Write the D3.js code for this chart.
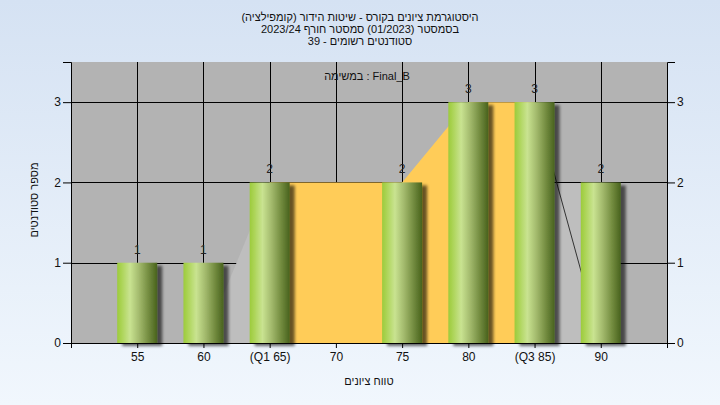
<!DOCTYPE html>
<html><head><meta charset="utf-8">
<script src="https://cdn.jsdelivr.net/npm/d3@7"></script>
<style>html,body{margin:0;padding:0;}svg{display:block;}</style>
</head><body>
<script>
// ---- data ----
const categories = [55, 60, 65, 70, 75, 80, 85, 90];
const counts = [1, 1, 2, 0, 2, 3, 3, 2];
const tickLabels = ["55", "60", "(Q1 65)", "70", "75", "80", "(Q3 85)", "90"];
const yTicks = [0, 1, 2, 3];
const iqrX = [65, 70, 75, 80, 85];
const iqrY = [2, 2, 2, 3, 3];
const tailLeftX = [60, 65];
const tailLeftY = [0, 2];
const tailRightX = [85, 90];
const tailRightY = [3, 0];
const tailRightFillY = [2, 2];
const titleLines = [
  "היסטוגרמת ציונים בקורס - שיטות הידור (קומפילציה)",
  "בסמסטר  (01/2023)  סמסטר חורף 2023/24",
  "סטודנטים רשומים - 39"
];
const subtitle = "במשימה : Final_B";
const xTitle = "טווח ציונים";
const yTitle = "מספר סטודנטים";

// ---- chart ----
const W = 720, H = 405;
const svg = d3.select("body").append("svg").attr("width", W).attr("height", H);
const defs = svg.append("defs");
const bg = defs.append("linearGradient").attr("id", "bg").attr("x1", 0).attr("y1", 0).attr("x2", 0).attr("y2", 1);
bg.append("stop").attr("offset", 0).attr("stop-color", "#d5e2f3");
bg.append("stop").attr("offset", 1).attr("stop-color", "#f1f7fd");
const bar = defs.append("linearGradient").attr("id", "bar").attr("x1", 0).attr("y1", 0).attr("x2", 1).attr("y2", 0);
[[0, "#9ccb3c"], [0.1, "#aad353"], [0.32, "#c9e391"], [0.55, "#a2b96c"], [0.8, "#70893d"], [1, "#48621d"]]
  .forEach(([o, c]) => bar.append("stop").attr("offset", o).attr("stop-color", c));
const sh = defs.append("filter").attr("id", "sh").attr("x", "-20%").attr("y", "-20%").attr("width", "150%").attr("height", "150%");
sh.append("feGaussianBlur").attr("in", "SourceAlpha").attr("stdDeviation", 1.8).attr("result", "b");
sh.append("feOffset").attr("in", "b").attr("dx", 5).attr("dy", 3).attr("result", "o");
sh.append("feComponentTransfer").attr("in", "o").attr("result", "s")
  .append("feFuncA").attr("type", "linear").attr("slope", 0.6);
const mg = sh.append("feMerge");
mg.append("feMergeNode").attr("in", "s");
mg.append("feMergeNode").attr("in", "SourceGraphic");

svg.append("rect").attr("width", W).attr("height", H).attr("fill", "url(#bg)");

const x = d3.scaleLinear().domain([50, 95]).range([71, 667]);
const y = d3.scaleLinear().domain([0, 3.5]).range([343, 62]);
const font = "'Liberation Sans', Arial, sans-serif";

// plot background
svg.append("rect").attr("x", x(50)).attr("y", y(3.5)).attr("width", x(95) - x(50)).attr("height", y(0) - y(3.5)).attr("fill", "#b3b3b3");

// gridlines
const g = svg.append("g");
yTicks.filter(t => t > 0).forEach(t => g.append("line").attr("x1", x(50)).attr("x2", x(95)).attr("y1", Math.round(y(t)) + 0.5).attr("y2", Math.round(y(t)) + 0.5).attr("stroke", "#000"));
categories.forEach(c => g.append("line").attr("x1", Math.round(x(c)) + 0.5).attr("x2", Math.round(x(c)) + 0.5).attr("y1", y(3.5)).attr("y2", y(0)).attr("stroke", "#000"));

// gray tails
const area = d3.area().x(d => x(d[0])).y0(y(0)).y1(d => y(d[1]));
svg.append("path").datum(tailLeftX.map((v, i) => [v, tailLeftY[i]])).attr("d", area).attr("fill", "#bebebe");
svg.append("path").datum(tailRightX.map((v, i) => [v, tailRightFillY[i]])).attr("d", area).attr("fill", "#bebebe");
svg.append("line").attr("x1", x(tailRightX[0])).attr("x2", x(tailRightX[1])).attr("y1", Math.round(y(tailRightFillY[0])) + 0.5).attr("y2", Math.round(y(tailRightFillY[1])) + 0.5).attr("stroke", "#000");
svg.append("path").datum(tailRightX.map((v, i) => [v, tailRightY[i]]))
  .attr("d", d3.line().x(d => x(d[0])).y(d => y(d[1]))).attr("fill", "none").attr("stroke", "#333").attr("stroke-width", 1);

// IQR area
svg.append("path").datum(iqrX.map((v, i) => [v, iqrY[i]])).attr("d", area).attr("fill", "#ffcc58");

// bars
const bw = 40;
const data = categories.map((c, i) => ({ c, v: counts[i] })).filter(d => d.v > 0);
svg.append("g").selectAll("rect").data(data).join("rect")
  .attr("x", d => x(d.c) - bw / 2).attr("y", d => y(d.v)).attr("width", bw).attr("height", d => y(0) - y(d.v))
  .attr("fill", "url(#bar)").attr("filter", "url(#sh)");
svg.append("g").selectAll("text").data(data).join("text")
  .attr("x", d => x(d.c)).attr("y", d => y(d.v) - 9).attr("text-anchor", "middle")
  .attr("font-family", font).attr("font-size", 12).attr("fill", "#222").text(d => d.v);

// axes
const axisStyle = sel => { sel.selectAll("text").attr("font-family", font).attr("font-size", 12).attr("fill", "#111"); sel.selectAll("line,path").attr("stroke", "#000"); };
svg.append("g").attr("transform", `translate(${x(50)},0)`)
  .call(d3.axisLeft(y).tickValues(yTicks).tickFormat(d3.format("d")).tickSize(8).tickPadding(2)).call(axisStyle);
svg.append("g").attr("transform", `translate(${x(95)},0)`)
  .call(d3.axisRight(y).tickValues(yTicks).tickFormat(d3.format("d")).tickSize(8).tickPadding(2)).call(axisStyle);
svg.append("g").attr("transform", `translate(0,${y(0)})`)
  .call(d3.axisBottom(x).tickValues([50].concat(categories).concat([95])).tickFormat(d => { const i = categories.indexOf(d); return i >= 0 ? tickLabels[i] : ""; }).tickSize(5).tickPadding(4)).call(axisStyle);
svg.selectAll(".domain").attr("stroke", "#000");

// texts
titleLines.forEach((t, i) => svg.append("text").attr("x", 360).attr("y", 21 + i * 12).attr("text-anchor", "middle")
  .attr("font-family", font).attr("font-size", 11).attr("fill", "#111").text(t));
svg.append("text").attr("x", 367).attr("y", 80).attr("text-anchor", "middle").attr("font-family", font).attr("font-size", 11).attr("fill", "#111").text(subtitle);
svg.append("text").attr("x", 369).attr("y", 385).attr("text-anchor", "middle").attr("font-family", font).attr("font-size", 11).attr("fill", "#111").text(xTitle);
svg.append("text").attr("transform", "translate(38,200) rotate(-90)").attr("text-anchor", "middle").attr("font-family", font).attr("font-size", 11).attr("fill", "#111").text(yTitle);
</script>
</body></html>
